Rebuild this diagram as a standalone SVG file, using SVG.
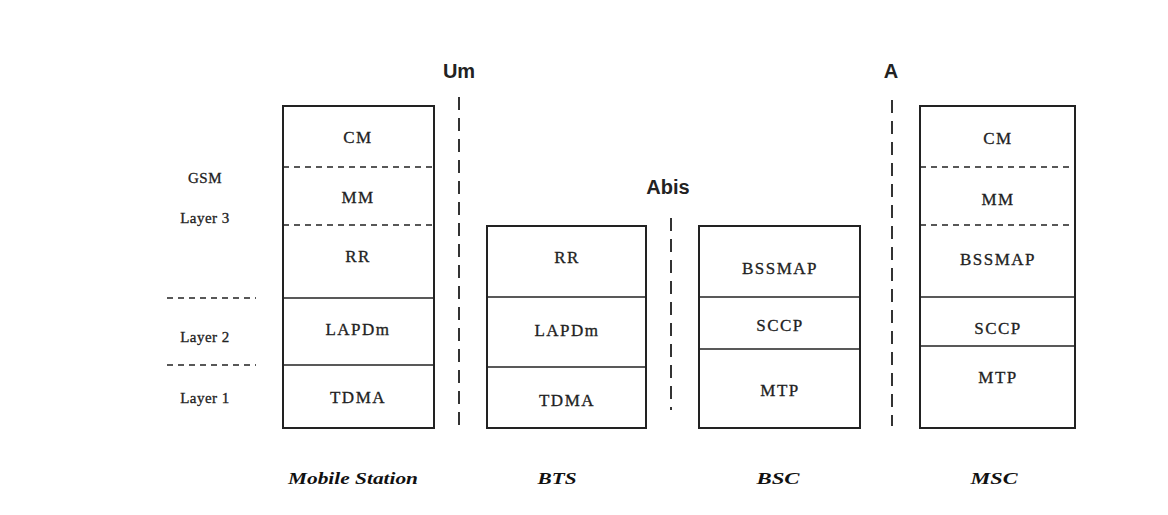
<svg xmlns="http://www.w3.org/2000/svg" width="1168" height="515" viewBox="0 0 1168 515">
<style>
.box{fill:#fff;stroke:#222;stroke-width:2}
.sep{stroke:#222;stroke-width:1.6}
.dsep{stroke:#222;stroke-width:1.6;stroke-dasharray:6 5}
.iface{stroke:#333;stroke-width:2;stroke-dasharray:13 8;fill:none}
.t{font-family:"Liberation Serif",serif;font-size:17px;fill:#222;text-anchor:middle;letter-spacing:1.5px;stroke:#222;stroke-width:0.3}
.lay{font-family:"Liberation Serif",serif;font-size:15px;fill:#222;text-anchor:middle;letter-spacing:0.5px;stroke:#222;stroke-width:0.3}
.ifl{font-family:"Liberation Sans",sans-serif;font-size:20px;font-weight:bold;fill:#222;text-anchor:middle}
.name{font-family:"Liberation Serif",serif;font-size:17px;font-weight:bold;font-style:italic;fill:#111;text-anchor:middle}
</style>
<rect width="1168" height="515" fill="#fff"/>
<g id="labels">
<text class="ifl" x="459" y="78">Um</text>
<text class="ifl" x="668" y="194">Abis</text>
<text class="ifl" x="891" y="78">A</text>
<text class="lay" x="205" y="183">GSM</text>
<text class="lay" x="205" y="223">Layer 3</text>
<text class="lay" x="205" y="342">Layer 2</text>
<text class="lay" x="205" y="403">Layer 1</text>
<line class="dsep" x1="167" y1="298" x2="256" y2="298"/>
<line class="dsep" x1="167" y1="365" x2="256" y2="365"/>
</g>
<g id="connectors">
<line class="iface" x1="459" y1="97" x2="459" y2="428"/>
<line class="iface" x1="671" y1="218" x2="671" y2="410"/>
<line class="iface" x1="892" y1="100" x2="892" y2="426"/>
</g>
<g id="ms">
<rect class="box" x="283" y="106" width="151" height="322"/>
<line class="dsep" x1="283" y1="167" x2="434" y2="167"/>
<line class="dsep" x1="283" y1="225" x2="434" y2="225"/>
<line class="sep" x1="283" y1="298" x2="434" y2="298"/>
<line class="sep" x1="283" y1="365" x2="434" y2="365"/>
<text class="t" x="358" y="143">CM</text>
<text class="t" x="358" y="203">MM</text>
<text class="t" x="358" y="262">RR</text>
<text class="t" x="358" y="335">LAPDm</text>
<text class="t" x="358" y="403">TDMA</text>
<text class="name" x="353" y="484" textLength="130" lengthAdjust="spacingAndGlyphs">Mobile Station</text>
</g>
<g id="bts">
<rect class="box" x="487" y="226" width="159" height="202"/>
<line class="sep" x1="487" y1="297" x2="646" y2="297"/>
<line class="sep" x1="487" y1="367" x2="646" y2="367"/>
<text class="t" x="567" y="263">RR</text>
<text class="t" x="567" y="336">LAPDm</text>
<text class="t" x="567" y="406">TDMA</text>
<text class="name" x="557" y="484" textLength="39" lengthAdjust="spacingAndGlyphs">BTS</text>
</g>
<g id="bsc">
<rect class="box" x="699" y="226" width="161" height="202"/>
<line class="sep" x1="699" y1="297" x2="860" y2="297"/>
<line class="sep" x1="699" y1="349" x2="860" y2="349"/>
<text class="t" x="780" y="274">BSSMAP</text>
<text class="t" x="780" y="331">SCCP</text>
<text class="t" x="780" y="396">MTP</text>
<text class="name" x="778" y="484" textLength="43" lengthAdjust="spacingAndGlyphs">BSC</text>
</g>
<g id="msc">
<rect class="box" x="920" y="106" width="155" height="322"/>
<line class="dsep" x1="920" y1="167" x2="1075" y2="167"/>
<line class="dsep" x1="920" y1="225" x2="1075" y2="225"/>
<line class="sep" x1="920" y1="297" x2="1075" y2="297"/>
<line class="sep" x1="920" y1="346" x2="1075" y2="346"/>
<text class="t" x="998" y="144">CM</text>
<text class="t" x="998" y="205">MM</text>
<text class="t" x="998" y="265">BSSMAP</text>
<text class="t" x="998" y="334">SCCP</text>
<text class="t" x="998" y="383">MTP</text>
<text class="name" x="994" y="484" textLength="47" lengthAdjust="spacingAndGlyphs">MSC</text>
</g>
</svg>
